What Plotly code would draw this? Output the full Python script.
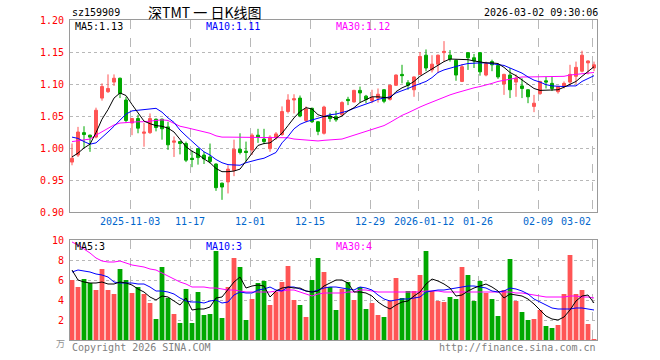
import plotly.graph_objects as go

# ---------------- data ----------------
dates = [
    "2025-10-20", "2025-10-21", "2025-10-22", "2025-10-23", "2025-10-24",
    "2025-10-27", "2025-10-28", "2025-10-29", "2025-10-30", "2025-10-31",
    "2025-11-03", "2025-11-04", "2025-11-05", "2025-11-06", "2025-11-07",
    "2025-11-10", "2025-11-11", "2025-11-12", "2025-11-13", "2025-11-14",
    "2025-11-17", "2025-11-18", "2025-11-19", "2025-11-20", "2025-11-21",
    "2025-11-24", "2025-11-25", "2025-11-26", "2025-11-27", "2025-11-28",
    "2025-12-01", "2025-12-02", "2025-12-03", "2025-12-04", "2025-12-05",
    "2025-12-08", "2025-12-09", "2025-12-10", "2025-12-11", "2025-12-12",
    "2025-12-15", "2025-12-16", "2025-12-17", "2025-12-18", "2025-12-19",
    "2025-12-22", "2025-12-23", "2025-12-24", "2025-12-25", "2025-12-26",
    "2025-12-29", "2025-12-30", "2025-12-31", "2026-01-05", "2026-01-06",
    "2026-01-07", "2026-01-08", "2026-01-09", "2026-01-12", "2026-01-13",
    "2026-01-14", "2026-01-15", "2026-01-16", "2026-01-19", "2026-01-20",
    "2026-01-21", "2026-01-22", "2026-01-23", "2026-01-26", "2026-01-27",
    "2026-01-28", "2026-01-29", "2026-01-30", "2026-02-02", "2026-02-03",
    "2026-02-04", "2026-02-05", "2026-02-06", "2026-02-09", "2026-02-10",
    "2026-02-11", "2026-02-12", "2026-02-13", "2026-02-24", "2026-02-25",
    "2026-02-26", "2026-02-27", "2026-03-02",
]

open_ = [0.978, 0.989, 1.024, 1.020, 1.017, 1.078, 1.088, 1.103, 1.109, 1.075,
         1.039, 1.046, 1.023, 1.024, 1.045, 1.045, 1.033, 1.009, 1.010, 1.007,
         0.984, 0.999, 0.989, 0.986, 0.975, 0.945, 0.947, 0.965, 0.998, 0.995,
         0.997, 1.020, 1.014, 0.999, 1.016, 1.021, 1.057, 1.075, 1.078, 1.043,
         1.062, 1.041, 1.023, 1.050, 1.049, 1.052, 1.076, 1.072, 1.090, 1.081,
         1.074, 1.078, 1.091, 1.076, 1.098, 1.115, 1.102, 1.091, 1.115, 1.145,
         1.122, 1.131, 1.149, 1.145, 1.137, 1.104, 1.149, 1.141, 1.149, 1.114,
         1.135, 1.129, 1.100, 1.114, 1.103, 1.097, 1.091, 1.065, 1.085, 1.105,
         1.101, 1.088, 1.096, 1.103, 1.112, 1.120, 1.133, 1.125]
high = [1.007, 1.033, 1.034, 1.021, 1.063, 1.101, 1.115, 1.115, 1.110, 1.080,
        1.047, 1.052, 1.039, 1.054, 1.046, 1.046, 1.041, 1.018, 1.011, 1.010,
        0.996, 1.000, 0.994, 1.007, 0.976, 0.946, 0.973, 1.013, 1.023, 1.010,
        1.023, 1.030, 1.030, 1.020, 1.025, 1.065, 1.084, 1.084, 1.082, 1.065,
        1.063, 1.042, 1.066, 1.055, 1.058, 1.073, 1.080, 1.091, 1.096, 1.083,
        1.091, 1.093, 1.092, 1.099, 1.115, 1.130, 1.106, 1.112, 1.150, 1.154,
        1.145, 1.146, 1.167, 1.153, 1.138, 1.131, 1.150, 1.147, 1.150, 1.135,
        1.138, 1.132, 1.116, 1.125, 1.115, 1.109, 1.092, 1.083, 1.105, 1.111,
        1.111, 1.097, 1.104, 1.130, 1.135, 1.152, 1.137, 1.135]
low = [0.973, 0.986, 1.000, 0.994, 1.015, 1.074, 1.086, 1.097, 1.078, 1.039,
       1.020, 1.023, 1.002, 1.022, 1.026, 1.013, 0.997, 0.986, 0.990, 0.978,
       0.970, 0.974, 0.975, 0.976, 0.933, 0.919, 0.929, 0.956, 0.990, 0.979,
       0.989, 1.008, 1.006, 0.994, 1.013, 1.019, 1.054, 1.054, 1.048, 1.040,
       1.039, 1.020, 1.021, 1.041, 1.041, 1.050, 1.067, 1.071, 1.071, 1.070,
       1.070, 1.071, 1.070, 1.074, 1.097, 1.101, 1.091, 1.080, 1.114, 1.120,
       1.118, 1.117, 1.135, 1.135, 1.105, 1.103, 1.122, 1.125, 1.113, 1.112,
       1.120, 1.108, 1.083, 1.078, 1.080, 1.078, 1.070, 1.056, 1.083, 1.093,
       1.089, 1.085, 1.093, 1.097, 1.100, 1.118, 1.115, 1.120]
close = [0.984, 1.025, 1.021, 1.017, 1.059, 1.096, 1.093, 1.109, 1.085, 1.043,
         1.046, 1.031, 1.025, 1.046, 1.032, 1.030, 1.005, 1.011, 1.007, 0.981,
         0.982, 0.985, 0.983, 0.979, 0.938, 0.939, 0.967, 0.998, 0.993, 0.993,
         1.020, 1.017, 1.010, 1.017, 1.022, 1.057, 1.075, 1.077, 1.050, 1.061,
         1.041, 1.026, 1.064, 1.046, 1.044, 1.071, 1.074, 1.090, 1.086, 1.076,
         1.079, 1.084, 1.073, 1.098, 1.114, 1.113, 1.098, 1.111, 1.143, 1.125,
         1.131, 1.145, 1.151, 1.139, 1.114, 1.127, 1.141, 1.136, 1.119, 1.132,
         1.130, 1.111, 1.115, 1.091, 1.109, 1.093, 1.080, 1.070, 1.104, 1.103,
         1.093, 1.096, 1.101, 1.115, 1.126, 1.145, 1.136, 1.130]

ma5 = [0.986, 0.992, 1.000, 1.006, 1.024, 1.045, 1.060, 1.078, 1.086, 1.082,
       1.068, 1.055, 1.042, 1.038, 1.035, 1.034, 1.031, 1.025, 1.014, 1.002,
       0.995, 0.990, 0.983, 0.977, 0.968, 0.963, 0.963, 0.964, 0.967, 0.980,
       0.992, 1.004, 1.007, 1.008, 1.015, 1.023, 1.035, 1.047, 1.057, 1.063,
       1.061, 1.052, 1.049, 1.050, 1.046, 1.050, 1.058, 1.063, 1.071, 1.076,
       1.080, 1.080, 1.079, 1.078, 1.088, 1.094, 1.098, 1.104, 1.112, 1.118,
       1.124, 1.130, 1.135, 1.139, 1.139, 1.138, 1.138, 1.136, 1.134, 1.133,
       1.133, 1.132, 1.126, 1.118, 1.113, 1.106, 1.099, 1.093, 1.090, 1.090,
       1.090, 1.091, 1.095, 1.099, 1.104, 1.112, 1.120, 1.127]
ma10 = [1.017, 1.015, 1.010, 1.006, 1.008, 1.016, 1.025, 1.034, 1.044, 1.053,
        1.058, 1.059, 1.059, 1.061, 1.062, 1.056, 1.047, 1.040, 1.028, 1.019,
        1.010, 1.002, 0.994, 0.989, 0.982, 0.977, 0.974, 0.973, 0.973, 0.977,
        0.980, 0.982, 0.984, 0.988, 0.993, 1.008, 1.018, 1.030, 1.037, 1.041,
        1.044, 1.046, 1.049, 1.052, 1.053, 1.055, 1.058, 1.062, 1.065, 1.068,
        1.072, 1.076, 1.078, 1.080, 1.086, 1.089, 1.093, 1.097, 1.100, 1.104,
        1.110, 1.118, 1.122, 1.125, 1.128, 1.130, 1.132, 1.133, 1.133, 1.133,
        1.132, 1.131, 1.129, 1.125, 1.121, 1.117, 1.111, 1.106, 1.103, 1.099,
        1.097, 1.096, 1.096, 1.097, 1.097, 1.104, 1.109, 1.113]
ma30 = [1.010, 1.011, 1.012, 1.014, 1.020, 1.025, 1.031, 1.036, 1.039, 1.040,
        1.040, 1.041, 1.041, 1.042, 1.043, 1.044, 1.043, 1.039, 1.034, 1.032,
        1.030, 1.028, 1.025, 1.023, 1.019, 1.017, 1.017, 1.017, 1.017, 1.017,
        1.017, 1.017, 1.017, 1.017, 1.017, 1.017, 1.016, 1.014, 1.013, 1.012,
        1.011, 1.011, 1.012, 1.013, 1.013, 1.014, 1.017, 1.020, 1.022, 1.025,
        1.028, 1.031, 1.035, 1.040, 1.046, 1.051, 1.055, 1.060, 1.064, 1.068,
        1.072, 1.075, 1.079, 1.083, 1.086, 1.089, 1.092, 1.094, 1.096, 1.098,
        1.101, 1.104, 1.106, 1.108, 1.110, 1.111, 1.111, 1.111, 1.111, 1.111,
        1.111, 1.112, 1.112, 1.114, 1.115, 1.116, 1.117, 1.118]

volume = [6.0, 5.3, 6.1, 5.7, 5.0, 7.1, 5.0, 4.6, 7.1, 6.0,
          4.7, 5.3, 4.6, 3.7, 2.1, 7.3, 4.2, 2.6, 1.7, 5.1,
          1.7, 4.8, 2.5, 2.6, 8.9, 2.2, 5.3, 8.2, 7.3, 2.0,
          4.1, 5.7, 5.9, 3.5, 4.8, 5.8, 7.4, 4.0, 3.5, 2.3,
          6.0, 8.2, 6.8, 5.3, 3.0, 5.1, 5.8, 4.0, 5.3, 3.1,
          3.7, 2.5, 2.3, 3.9, 6.2, 4.2, 4.9, 4.9, 6.5, 8.9,
          4.9, 3.9, 3.8, 4.3, 4.1, 7.3, 6.5, 3.9, 5.9, 4.7,
          4.1, 2.4, 5.0, 8.1, 3.9, 2.8, 2.0, 2.1, 3.0, 1.4,
          1.2, 1.5, 4.6, 8.5, 4.6, 5.0, 1.6, 0.1]
vol_ma5 = [7.0, 6.0, 5.8, 5.7, 5.7, 5.8, 5.6, 5.6, 5.8, 5.7,
           5.5, 5.1, 4.8, 4.3, 4.0, 4.4, 4.3, 3.9, 3.5, 4.2,
           3.0, 3.1, 3.1, 3.3, 4.2, 4.3, 5.0, 5.8, 6.3, 5.2,
           5.4, 5.5, 5.4, 4.3, 4.9, 5.2, 5.3, 5.2, 5.2, 4.9,
           4.8, 4.9, 5.4, 5.7, 6.0, 6.0, 5.7, 4.8, 4.8, 4.7,
           4.4, 3.8, 3.4, 3.1, 3.5, 3.8, 3.9, 4.4, 4.8, 5.6,
           6.1, 5.9, 5.6, 5.2, 4.4, 4.5, 4.9, 5.2, 5.4, 5.6,
           5.3, 4.9, 4.2, 4.6, 4.5, 4.4, 4.1, 3.6, 3.0, 2.4,
           2.1, 2.0, 2.3, 3.0, 3.9, 4.4, 4.5, 3.7]
vol_ma10 = [6.8, 7.0, 6.9, 6.8, 6.6, 6.5, 6.3, 5.8, 5.7, 5.7,
            5.7, 5.6, 5.6, 5.3, 4.9, 4.9, 4.8, 4.6, 4.2, 3.9,
            3.8, 3.8, 3.7, 3.9, 4.0, 3.7, 3.8, 4.5, 4.8, 4.7,
            4.7, 5.0, 5.1, 5.3, 5.0, 4.9, 5.3, 5.3, 5.1, 4.9,
            4.8, 5.0, 5.2, 5.3, 5.3, 5.2, 5.1, 5.0, 5.3, 5.2,
            5.0, 4.5, 4.1, 3.9, 4.0, 4.1, 4.1, 4.2, 4.3, 4.8,
            4.9, 5.0, 5.0, 5.1, 5.2, 5.3, 5.4, 5.4, 5.3, 5.2,
            4.9, 4.8, 4.9, 5.2, 5.1, 4.9, 4.6, 4.1, 3.8, 3.5,
            3.2, 3.1, 3.1, 3.1, 3.2, 3.2, 3.1, 3.0]
vol_ma30 = [9.8, 9.5, 9.1, 8.7, 8.2, 7.9, 7.8, 7.8, 7.9, 7.7,
            7.5, 7.4, 7.3, 7.1, 7.0, 6.7, 6.4, 6.1, 5.8, 5.6,
            5.3, 5.3, 5.3, 5.2, 5.2, 5.1, 5.0, 5.0, 4.9, 4.8,
            4.8, 4.8, 4.8, 4.8, 4.9, 4.9, 5.0, 5.0, 4.8, 4.6,
            4.4, 4.6, 4.7, 4.7, 4.7, 4.7, 4.8, 4.8, 5.0, 5.0,
            4.9, 4.8, 4.8, 4.8, 4.8, 4.8, 4.8, 4.8, 4.8, 4.9,
            4.9, 4.9, 4.8, 4.8, 4.8, 4.8, 4.8, 4.8, 4.8, 4.8,
            4.8, 4.8, 4.8, 4.8, 4.7, 4.7, 4.6, 4.5, 4.4, 4.3,
            4.3, 4.3, 4.3, 4.4, 4.4, 4.3, 4.3, 4.2]

tick_dates = ["2025-11-03", "2025-11-17", "2025-12-01", "2025-12-15", "2025-12-29",
              "2026-01-12", "2026-01-26", "2026-02-09", "2026-03-02"]
tick_labels = ["2025-11-03", "11-17", "12-01", "12-15", "12-29",
               "2026-01-12", "01-26", "02-09", "03-02"]
price_ticks = [0.90, 0.95, 1.00, 1.05, 1.10, 1.15, 1.20]
vol_ticks = [2, 4, 6, 8, 10]

# ---------------- style ----------------
RED = "#ff5555"
GREEN = "#00a800"
GRID = "#b8b8b8"
BORDER = "#9a9a9a"
MONO = "DejaVu Sans Mono"
W, H = 660, 360
ML, MR, MT, MB = 70, 63, 20, 20

xs = list(range(len(dates)))
pos = {d: i for i, d in enumerate(dates)}
grid_x = [pos[d] - 1 / 3 for d in tick_dates]
vol_colors = [RED if c >= o else GREEN for o, c in zip(open_, close)]


def py(ypix):
    return (H - MB - ypix) / (H - MT - MB)


def pxx(xpix):
    return (xpix - ML) / (W - ML - MR)


fig = go.Figure()
fig.add_trace(go.Candlestick(
    x=xs, open=open_, high=high, low=low, close=close,
    increasing=dict(line=dict(color=RED, width=1), fillcolor=RED),
    decreasing=dict(line=dict(color=GREEN, width=1), fillcolor=GREEN),
    whiskerwidth=0, xaxis="x", yaxis="y", showlegend=False, hoverinfo="skip",
))
for vals, col in [(ma30, "#ff00ff"), (ma10, "#0000ff"), (ma5, "#000000")]:
    fig.add_trace(go.Scatter(x=xs, y=vals, mode="lines", line=dict(color=col, width=1),
                             xaxis="x", yaxis="y", showlegend=False, hoverinfo="skip"))

fig.add_trace(go.Bar(x=xs, y=volume, marker=dict(color=vol_colors, line=dict(width=0)),
                     width=0.8, xaxis="x2", yaxis="y2", showlegend=False, hoverinfo="skip"))
for vals, col in [(vol_ma30, "#ff00ff"), (vol_ma10, "#0000ff"), (vol_ma5, "#000000")]:
    fig.add_trace(go.Scatter(x=xs, y=vals, mode="lines", line=dict(color=col, width=1),
                             xaxis="x2", yaxis="y2", showlegend=False, hoverinfo="skip"))

xr = [-1 / 3, len(dates) - 0.5]
xcommon = dict(range=xr, tickvals=grid_x, showticklabels=False, ticks="",
               showgrid=True, gridcolor=GRID, griddash="dash", gridwidth=1,
               showline=True, linecolor=BORDER, linewidth=1, mirror=True,
               zeroline=False, fixedrange=True)
fig.update_layout(
    width=W, height=H, autosize=False,
    margin=dict(l=ML, r=MR, t=MT, b=MB),
    paper_bgcolor="white", plot_bgcolor="white",
    xaxis=dict(domain=[0, 1], anchor="y", rangeslider=dict(visible=False), **xcommon),
    xaxis2=dict(domain=[0, 1], anchor="y2", **xcommon),
    yaxis=dict(domain=[py(212), py(20)], range=[0.90, 1.20], tickvals=price_ticks,
               ticktext=[f"{v:.2f}" for v in price_ticks],
               tickfont=dict(family=MONO, size=10, color="#ff0000"),
               showgrid=True, gridcolor=GRID, griddash="dot",
               showline=True, linecolor=BORDER, mirror=True, zeroline=False,
               ticks="", ticklabelstandoff=3, fixedrange=True),
    yaxis2=dict(domain=[0, py(240)], range=[0, 10], tickvals=vol_ticks,
                ticktext=[str(v) for v in vol_ticks],
                tickfont=dict(family=MONO, size=10, color="#ff0000"),
                showgrid=True, gridcolor=GRID, griddash="dot",
                showline=True, linecolor=BORDER, mirror=True, zeroline=False,
                ticks="", ticklabelstandoff=3, fixedrange=True),
    bargap=0.15,
)

ann = []


def text(x, y, s, color="#000", size=10, family=MONO, anchor="left"):
    ann.append(dict(x=pxx(x), y=py(y), xref="paper", yref="paper", text=s,
                    showarrow=False, xanchor=anchor, yanchor="middle",
                    font=dict(family=family, size=size, color=color)))


text(70, 12, "sz159909")
text(204, 12, "深TMT 一 日K线图", size=14, family="Noto Sans CJK SC", anchor="center")
text(600, 12, "2026-03-02 09:30:06", anchor="right")
text(73, 27, f"MA5:{ma5[-1]:.2f}", color="#000000")
text(204, 27, f"MA10:{ma10[-1]:.2f}", color="#0000ff")
text(334, 27, f"MA30:{ma30[-1]:.2f}", color="#ff00ff")
text(73, 246, f"MA5:{int(vol_ma5[-1])}", color="#000000")
text(204, 246, f"MA10:{int(vol_ma10[-1])}", color="#0000ff")
text(334, 246, f"MA30:{int(vol_ma30[-1])}", color="#ff00ff")
text(67, 343, "万", color="#909090", size=9, family="Noto Sans CJK SC", anchor="right")
text(70, 347, "Copyright 2026 SINA.COM", color="#808080")
text(598, 347, "http://finance.sina.com.cn", color="#808080", anchor="right")

shifts = {"2026-01-12": 6, "2026-03-02": -16}
for d, lab in zip(tick_dates, tick_labels):
    ann.append(dict(x=pos[d] - 1 / 3, y=py(221), xref="x", yref="paper", text=lab,
                    showarrow=False, xanchor="center", yanchor="middle",
                    xshift=shifts.get(d, 0),
                    font=dict(family=MONO, size=10, color="#0066cc")))

fig.update_layout(annotations=ann)
fig.write_html("out.html", config={"displayModeBar": False, "staticPlot": True},
               post_script="document.body.style.margin='0';document.body.style.overflow='hidden';")
